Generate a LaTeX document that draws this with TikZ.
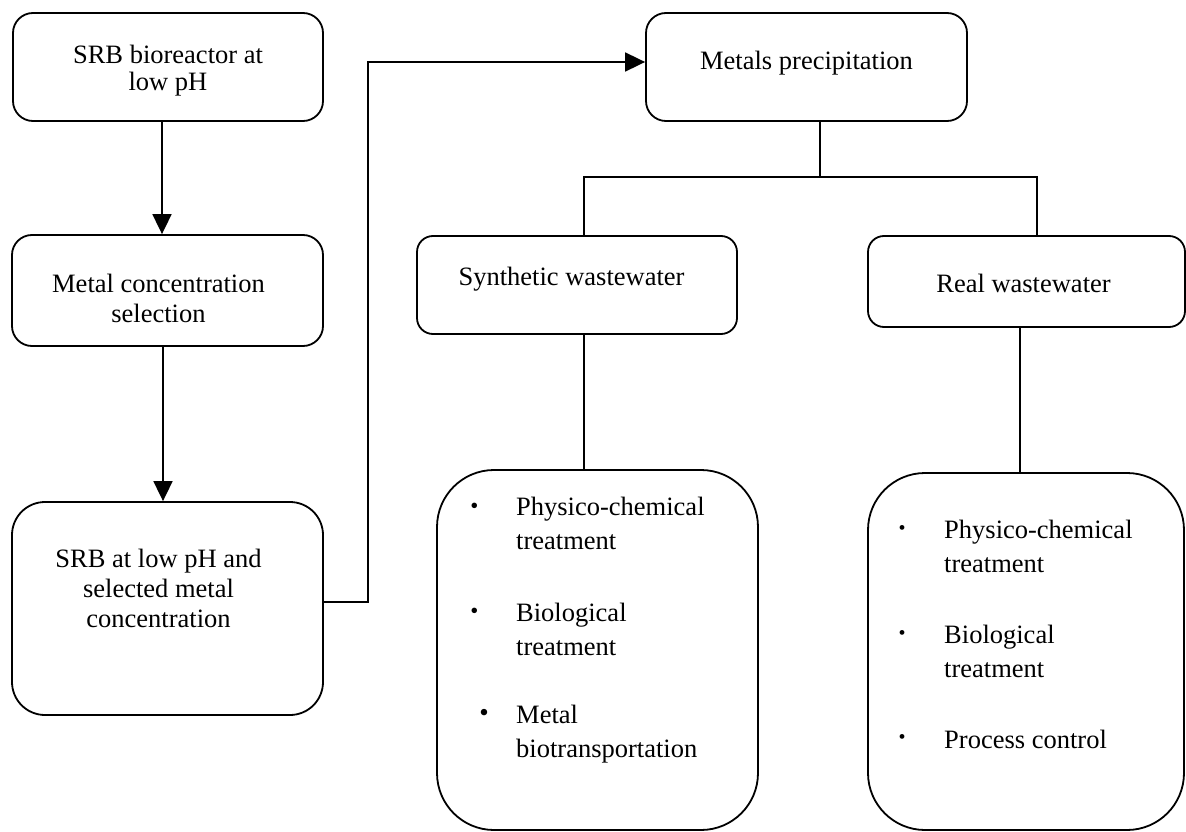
\documentclass[tikz,border=0pt]{standalone}
\usepackage{fontspec}
\setmainfont{Liberation Serif}
\usetikzlibrary{arrows.meta}

\tikzset{
  box/.style={draw, line width=1.8pt, rounded corners=20pt, inner sep=0pt},
  txt/.style={inner sep=0pt, align=center, anchor=base, font=\fontsize{26.5}{30}\selectfont},
  item/.style={inner sep=0pt, align=left, anchor=base west, font=\fontsize{26.5}{34}\selectfont},
  bul/.style={inner sep=0pt, anchor=base, font=\fontsize{23}{23}\selectfont},
  link/.style={line width=1.8pt},
  flow/.style={link, -{Triangle[width=19pt, length=20pt]}}
}

\begin{document}
\begin{tikzpicture}[x=1pt, y=-1pt]
    \useasboundingbox (0,0) rectangle (1186,832);

    % Left column (text nodes sit on the baseline of their last line)
    \node[box, minimum width=310pt, minimum height=108pt] (srb) at (168,67) {};
    \node[box, minimum width=311pt, minimum height=111pt] (conc) at (167.5,290.5) {};
    \node[box, rounded corners=33pt, minimum width=311pt, minimum height=213pt] (sel) at (167.5,608.5) {};
    \node[txt, font=\fontsize{26.5}{27.5}\selectfont] (srbtxt) at (168,91) {SRB bioreactor at\\low pH};
    \node[txt] (conctxt) at (158.5,322) {Metal concentration\\selection};
    \node[txt] (seltxt) at (158.5,627) {SRB at low pH and\\selected metal\\concentration};

    % Precipitation and the two wastewater branches
    \node[box, minimum width=321pt, minimum height=108pt] (prec) at (806.5,67) {};
    \node[box, rounded corners=16pt, minimum width=320pt, minimum height=98pt] (syn) at (577,285) {};
    \node[box, rounded corners=16pt, minimum width=317pt, minimum height=91pt] (real) at (1026.5,281.5) {};
    \node[txt] (prectxt) at (806.5,70) {Metals precipitation};
    \node[txt] (syntxt) at (571.5,285) {Synthetic wastewater};
    \node[txt] (realtxt) at (1023.5,292) {Real wastewater};

    % Treatment lists
    \node[box, rounded corners=57pt, minimum width=321pt, minimum height=360pt] (synlist) at (597.5,650) {};
    \node[box, rounded corners=57pt, minimum width=316pt, minimum height=357pt] (reallist) at (1026,651.5) {};

    \node[bul] (sb1) at (474.5,513) {•};
    \node[bul] (sb2) at (474.5,618.5) {•};
    \node[bul, font=\fontsize{27}{27}\selectfont] (sb3) at (484,721) {•};
    \node[item] (s1) at (516,549) {Physico-chemical\\treatment};
    \node[item] (s2) at (516,655) {Biological\\treatment};
    \node[item] (s3) at (516,757) {Metal\\biotransportation};

    \node[bul, font=\fontsize{20}{20}\selectfont] (rb1) at (902,534.5) {•};
    \node[bul, font=\fontsize{20}{20}\selectfont] (rb2) at (902,639.5) {•};
    \node[bul, font=\fontsize{20}{20}\selectfont] (rb3) at (902,743.5) {•};
    \node[item] (r1) at (944,572) {Physico-chemical\\treatment};
    \node[item] (r2) at (944,677) {Biological\\treatment};
    \node[item] (r3) at (944,748) {Process control};

    % Arrows down the left column
    \draw[flow] ([xshift=-6pt]srb.south) -- ([xshift=-6pt]srb.south |- conc.north);
    \draw[flow] ([xshift=-4.5pt]conc.south) -- ([xshift=-4.5pt]conc.south |- sel.north);

    % Over to the precipitation step
    \draw[flow] ([yshift=6.5pt]sel.east) -- ++(44,0) |- ([yshift=5pt]prec.west);

    % Split into synthetic and real wastewater
    \coordinate (split) at (820,177);
    \draw[link] (prec.south -| split) -- (split);
    \draw[link] ([xshift=7pt]syn.north) |- (split) -| ([xshift=10.5pt]real.north);

    % Down to the treatment lists
    \draw[link] ([xshift=7pt]syn.south) -- ([xshift=7pt]syn.south |- synlist.north);
    \draw[link] ([xshift=-6.5pt]real.south) -- ([xshift=-6.5pt]real.south |- reallist.north);
\end{tikzpicture}
\end{document}
